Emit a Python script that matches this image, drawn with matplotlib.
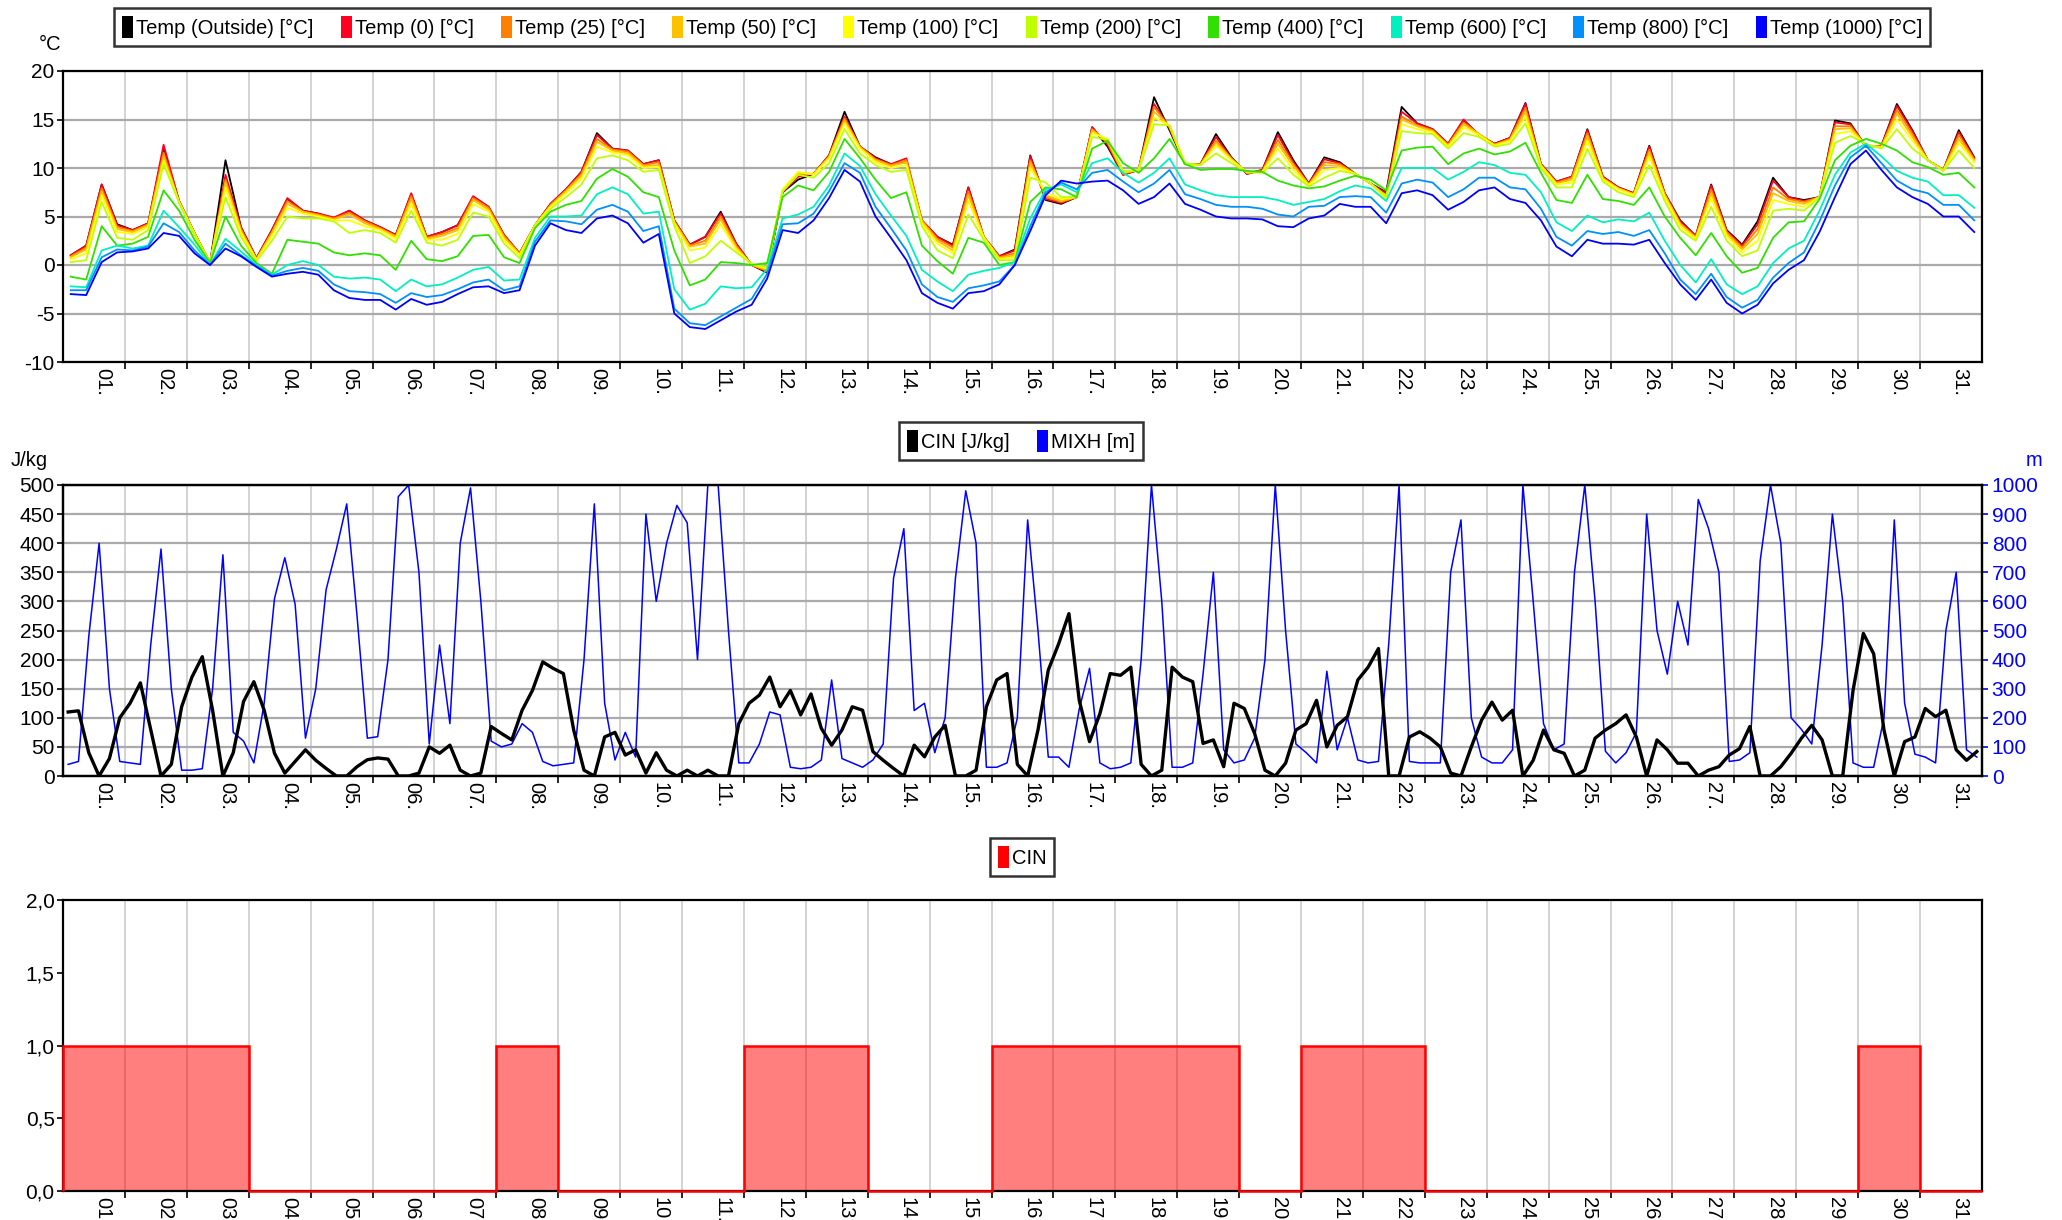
import numpy as np
import matplotlib
matplotlib.use('Agg')
import matplotlib.pyplot as plt
from matplotlib import font_manager
from matplotlib.patches import Patch

names = {f.name for f in font_manager.fontManager.ttflist}
FONT = 'Liberation Sans Narrow' if 'Liberation Sans Narrow' in names else 'Liberation Sans'
plt.rcParams['font.family'] = [FONT, 'DejaVu Sans']

# x axis: days of the month
day_labels = [f'{d:02d}.' for d in range(1, 32)]

# temperatures, 4 readings per day (03, 09, 15, 21 h)
temp_outside = [
    1.0, 2.0, 8.3, 4.2, 3.6, 4.3, 12.0, 6.6, 3.3, 0.2, 10.8, 3.9, 0.7, 3.6, 6.8, 5.6,
    5.3, 4.8, 5.6, 4.6, 3.9, 3.1, 7.3, 2.9, 3.4, 4.1, 7.0, 6.0, 3.1, 1.2, 4.1, 6.3,
    7.8, 9.6, 13.6, 12.0, 11.8, 10.4, 10.8, 4.6, 2.1, 2.9, 5.5, 2.2, 0.0, -0.8, 7.5, 8.8,
    9.4, 11.3, 15.8, 12.2, 11.1, 10.4, 10.6, 4.6, 2.9, 2.1, 8.0, 2.9, 0.9, 1.6, 11.3, 6.7,
    6.3, 7.0, 14.2, 12.2, 9.3, 9.8, 17.3, 13.9, 10.4, 10.4, 13.5, 11.1, 9.4, 9.8, 13.7, 10.8,
    8.4, 11.1, 10.6, 9.4, 8.4, 7.5, 16.3, 14.6, 14.0, 12.5, 14.9, 13.4, 12.5, 13.1, 16.7, 10.4,
    8.6, 9.1, 14.0, 9.1, 8.0, 7.4, 12.3, 7.4, 4.6, 3.0, 8.3, 3.6, 2.1, 4.5, 9.0, 7.0,
    6.7, 7.0, 14.9, 14.6, 12.2, 12.3, 16.6, 13.9, 10.8, 9.8, 13.9, 11.1]
temp_0 = [
    1.0, 2.0, 8.3, 4.1, 3.6, 4.3, 12.4, 6.6, 3.3, 0.2, 9.3, 3.9, 0.7, 3.6, 6.9, 5.6,
    5.3, 4.9, 5.6, 4.6, 3.9, 3.1, 7.4, 2.9, 3.4, 4.1, 7.1, 6.0, 3.1, 1.2, 4.1, 6.3,
    7.8, 9.6, 13.4, 12.0, 11.8, 10.4, 10.8, 4.6, 2.1, 2.9, 5.3, 2.2, 0.0, -0.7, 7.5, 9.1,
    9.4, 11.3, 15.3, 12.2, 11.0, 10.4, 11.0, 4.6, 2.9, 2.0, 8.0, 2.9, 0.9, 1.5, 11.2, 6.8,
    6.4, 7.0, 14.2, 12.4, 9.3, 9.8, 16.6, 14.1, 10.4, 10.4, 13.2, 11.0, 9.4, 9.8, 13.4, 10.6,
    8.4, 10.9, 10.5, 9.4, 8.4, 7.4, 15.8, 14.6, 14.0, 12.5, 15.0, 13.4, 12.5, 13.1, 16.6, 10.4,
    8.6, 9.1, 13.9, 9.1, 8.0, 7.4, 12.2, 7.4, 4.5, 3.0, 8.2, 3.5, 2.0, 4.2, 8.7, 7.0,
    6.6, 7.0, 14.7, 14.5, 12.2, 12.3, 16.4, 13.8, 10.8, 9.8, 13.7, 11.0]
temp_25 = [
    0.9, 1.8, 7.9, 3.9, 3.5, 4.2, 11.6, 6.5, 3.3, 0.2, 8.8, 3.7, 0.6, 3.4, 6.6, 5.5,
    5.2, 4.8, 5.4, 4.5, 3.8, 3.0, 7.1, 2.8, 3.2, 3.8, 6.9, 5.9, 3.0, 1.2, 4.1, 6.2,
    7.7, 9.4, 13.0, 11.9, 11.7, 10.3, 10.6, 4.5, 2.0, 2.5, 5.0, 2.0, 0.0, -0.6, 7.6, 9.3,
    9.4, 11.2, 15.1, 12.2, 10.9, 10.3, 10.8, 4.6, 2.7, 1.8, 7.6, 2.9, 0.8, 1.2, 10.8, 7.0,
    6.5, 7.0, 14.0, 12.6, 9.4, 9.8, 16.3, 14.2, 10.4, 10.4, 12.8, 11.0, 9.5, 9.7, 12.9, 10.4,
    8.3, 10.6, 10.4, 9.4, 8.4, 7.1, 15.3, 14.4, 13.9, 12.4, 14.7, 13.5, 12.4, 13.0, 16.2, 10.3,
    8.5, 9.0, 13.6, 9.0, 7.9, 7.3, 11.9, 7.3, 4.3, 2.9, 7.8, 3.4, 1.8, 3.7, 8.0, 6.8,
    6.5, 7.0, 14.3, 14.3, 12.3, 12.2, 16.0, 13.5, 10.8, 9.8, 13.4, 10.9]
temp_50 = [
    0.8, 1.6, 7.6, 3.7, 3.4, 4.1, 11.2, 6.5, 3.3, 0.2, 8.5, 3.5, 0.6, 3.3, 6.3, 5.5,
    5.1, 4.7, 5.2, 4.3, 3.7, 2.9, 6.8, 2.7, 3.0, 3.6, 6.7, 5.7, 2.8, 1.1, 4.1, 6.1,
    7.6, 9.2, 12.7, 11.8, 11.5, 10.2, 10.3, 4.4, 1.9, 2.2, 4.7, 1.8, 0.0, -0.5, 7.7, 9.5,
    9.4, 11.1, 14.9, 12.1, 10.8, 10.2, 10.6, 4.5, 2.5, 1.5, 7.2, 2.9, 0.7, 1.0, 10.5, 7.2,
    6.6, 7.0, 13.9, 12.8, 9.5, 9.8, 15.8, 14.3, 10.4, 10.3, 12.6, 10.9, 9.5, 9.6, 12.5, 10.2,
    8.3, 10.3, 10.2, 9.4, 8.4, 6.9, 15.0, 14.3, 13.8, 12.3, 14.5, 13.5, 12.4, 12.9, 15.8, 10.3,
    8.4, 8.8, 13.3, 8.9, 7.9, 7.3, 11.6, 7.2, 4.2, 2.8, 7.4, 3.2, 1.6, 3.2, 7.4, 6.6,
    6.3, 7.0, 14.0, 14.1, 12.3, 12.2, 15.6, 13.2, 10.8, 9.8, 13.0, 10.8]
temp_100 = [
    0.6, 1.2, 7.2, 3.4, 3.2, 3.9, 10.8, 6.5, 3.2, 0.2, 8.0, 3.3, 0.5, 3.0, 5.9, 5.3,
    5.0, 4.6, 4.6, 4.0, 3.6, 2.7, 6.3, 2.6, 2.6, 3.2, 6.3, 5.5, 2.6, 1.0, 4.1, 6.0,
    7.4, 8.9, 12.2, 11.6, 11.3, 10.0, 10.1, 4.3, 1.5, 1.8, 4.2, 1.6, 0.1, -0.4, 7.8, 9.6,
    9.3, 11.0, 14.6, 12.0, 10.6, 10.0, 10.3, 4.3, 2.2, 1.2, 6.6, 2.8, 0.6, 0.8, 10.0, 7.5,
    6.8, 7.0, 13.6, 13.0, 9.6, 9.8, 15.2, 14.4, 10.4, 10.3, 12.3, 10.8, 9.6, 9.6, 12.0, 9.8,
    8.2, 9.8, 10.0, 9.4, 8.4, 6.8, 14.5, 14.0, 13.7, 12.2, 14.2, 13.4, 12.3, 12.8, 15.3, 10.2,
    8.3, 8.5, 12.8, 8.8, 7.8, 7.2, 11.2, 7.0, 4.0, 2.7, 6.9, 3.0, 1.3, 2.5, 6.7, 6.3,
    6.0, 7.0, 13.5, 13.8, 12.4, 12.1, 15.0, 12.8, 10.8, 9.7, 12.6, 10.6]
temp_200 = [
    0.3, 0.5, 6.5, 2.8, 2.6, 3.6, 10.4, 6.4, 3.1, 0.2, 7.0, 2.9, 0.4, 2.5, 5.0, 4.8,
    4.8, 4.5, 3.3, 3.6, 3.3, 2.3, 5.6, 2.3, 2.0, 2.6, 5.4, 5.0, 2.2, 0.7, 4.0, 5.8,
    7.0, 8.3, 11.0, 11.3, 10.8, 9.6, 9.8, 4.0, 0.2, 0.9, 2.5, 1.3, 0.1, -0.2, 7.6, 9.3,
    9.0, 10.5, 14.0, 11.5, 10.3, 9.6, 9.8, 4.0, 1.5, 0.7, 5.2, 2.6, 0.5, 0.5, 9.0, 8.5,
    7.0, 7.0, 13.2, 12.9, 9.7, 9.7, 14.5, 14.4, 10.5, 10.3, 11.5, 10.5, 9.6, 9.5, 11.0, 9.3,
    8.1, 9.0, 9.7, 9.4, 8.4, 7.1, 13.8, 13.6, 13.5, 12.0, 13.6, 13.2, 12.2, 12.5, 14.6, 10.0,
    8.0, 8.0, 12.0, 8.6, 7.5, 7.0, 10.3, 6.6, 3.6, 2.5, 6.0, 2.5, 0.9, 1.5, 5.6, 5.8,
    5.6, 7.0, 12.6, 13.3, 12.5, 12.0, 14.0, 12.0, 10.8, 9.7, 11.8, 10.0]
temp_400 = [
    -1.2, -1.5, 4.0, 2.0, 2.2, 2.9, 7.7, 5.6, 2.6, 0.2, 5.0, 2.0, 0.2, -0.9, 2.6, 2.4,
    2.2, 1.3, 1.0, 1.2, 1.0, -0.5, 2.5, 0.6, 0.4, 0.9, 3.0, 3.1, 0.8, 0.2, 3.8, 5.5,
    6.2, 6.6, 8.9, 9.9, 9.1, 7.5, 7.0, 1.5, -2.1, -1.5, 0.3, 0.2, 0.0, 0.2, 7.0, 8.2,
    7.7, 9.6, 13.0, 11.0, 8.8, 6.9, 7.5, 2.0, 0.4, -0.9, 2.8, 2.3, 0.0, 0.3, 6.5, 8.0,
    7.8, 7.0, 12.0, 12.8, 10.5, 9.5, 11.0, 13.0, 10.4, 9.8, 9.9, 9.9, 9.7, 9.6, 8.7, 8.2,
    7.9, 8.1, 8.7, 9.2, 8.8, 7.7, 11.8, 12.1, 12.2, 10.4, 11.5, 12.0, 11.4, 11.7, 12.6, 9.5,
    6.7, 6.4, 9.3, 6.8, 6.6, 6.2, 8.0, 5.0, 2.8, 1.0, 3.3, 0.9, -0.8, -0.3, 2.8, 4.4,
    4.5, 6.8, 10.8, 12.3, 13.0, 12.5, 11.8, 10.6, 10.1, 9.3, 9.5, 8.0]
temp_600 = [
    -2.2, -2.3, 1.5, 2.0, 1.7, 2.0, 5.6, 3.9, 2.1, 0.0, 2.7, 1.4, 0.0, -1.0, 0.0, 0.4,
    0.0, -1.2, -1.4, -1.3, -1.5, -2.7, -1.5, -2.2, -2.0, -1.3, -0.5, -0.2, -1.6, -1.5, 2.8, 5.0,
    5.0, 5.1, 7.3, 8.0, 7.3, 5.3, 5.5, -2.5, -4.6, -4.0, -2.2, -2.4, -2.3, -0.4, 4.8, 5.2,
    6.0, 8.2, 11.5, 10.2, 7.3, 5.1, 3.0, -0.5, -1.7, -2.7, -1.0, -0.6, -0.3, 0.3, 4.8, 7.8,
    8.3, 7.5, 10.5, 11.0, 9.5, 8.5, 9.5, 11.0, 8.3, 7.7, 7.2, 7.0, 7.0, 7.0, 6.7, 6.2,
    6.5, 6.8, 7.6, 8.2, 7.9, 6.6, 10.0, 10.0, 10.0, 8.8, 9.6, 10.6, 10.3, 9.5, 9.3, 7.5,
    4.4, 3.5, 5.1, 4.4, 4.7, 4.5, 5.4, 2.5, 0.0, -1.8, 0.6, -2.0, -3.0, -2.2, 0.2, 1.7,
    2.5, 5.6, 9.3, 11.6, 12.5, 11.2, 9.7, 9.0, 8.6, 7.2, 7.2, 5.9]
temp_800 = [
    -2.6, -2.6, 0.8, 1.6, 1.5, 1.9, 4.3, 3.4, 1.5, 0.0, 2.2, 1.0, -0.1, -1.1, -0.6, -0.3,
    -0.6, -2.0, -2.7, -2.8, -3.0, -3.9, -2.9, -3.3, -3.1, -2.5, -1.8, -1.5, -2.6, -2.2, 2.4, 4.6,
    4.5, 4.2, 5.7, 6.2, 5.5, 3.5, 4.0, -4.5, -6.0, -6.2, -5.3, -4.4, -3.5, -0.9, 4.2, 4.3,
    5.3, 7.6, 10.5, 9.5, 6.0, 3.8, 1.5, -2.0, -3.3, -3.8, -2.4, -2.1, -1.7, 0.0, 4.0, 7.5,
    8.5, 7.8, 9.5, 9.8, 8.6, 7.5, 8.4, 9.8, 7.3, 6.8, 6.2, 6.0, 6.0, 5.8, 5.2, 5.0,
    6.0, 6.1, 7.0, 7.1, 7.0, 5.4, 8.4, 8.8, 8.5, 7.0, 7.8, 9.0, 9.0, 8.0, 7.8, 5.8,
    2.9, 2.0, 3.5, 3.2, 3.4, 3.0, 3.6, 1.2, -1.5, -3.0, -0.9, -3.3, -4.4, -3.6, -1.3, 0.2,
    1.3, 4.5, 8.2, 11.1, 12.3, 10.5, 8.7, 7.8, 7.4, 6.2, 6.2, 4.6]
temp_1000 = [
    -3.0, -3.1, 0.3, 1.3, 1.4, 1.7, 3.3, 3.0, 1.2, 0.0, 1.7, 0.9, -0.2, -1.2, -0.9, -0.7,
    -1.0, -2.6, -3.4, -3.6, -3.6, -4.6, -3.5, -4.1, -3.8, -3.0, -2.3, -2.2, -2.9, -2.6, 2.0, 4.3,
    3.6, 3.3, 4.8, 5.1, 4.3, 2.3, 3.2, -5.0, -6.4, -6.6, -5.7, -4.8, -4.1, -1.4, 3.6, 3.3,
    4.6, 6.9, 9.8, 8.6, 5.0, 2.8, 0.5, -2.9, -3.9, -4.5, -2.9, -2.7, -2.0, 0.0, 3.5, 7.2,
    8.7, 8.4, 8.6, 8.7, 7.7, 6.3, 7.0, 8.4, 6.3, 5.7, 5.0, 4.8, 4.8, 4.7, 4.0, 3.9,
    4.8, 5.1, 6.3, 6.0, 6.0, 4.3, 7.4, 7.7, 7.2, 5.7, 6.5, 7.7, 8.0, 6.8, 6.4, 4.6,
    1.9, 0.9, 2.6, 2.2, 2.2, 2.1, 2.6, 0.2, -2.0, -3.6, -1.5, -3.9, -5.0, -4.1, -1.9, -0.5,
    0.5, 3.4, 7.0, 10.4, 11.8, 9.8, 8.0, 7.0, 6.3, 5.0, 5.0, 3.4]

temp_labels = ['Temp (Outside) [°C]', 'Temp (0) [°C]', 'Temp (25) [°C]', 'Temp (50) [°C]',
               'Temp (100) [°C]', 'Temp (200) [°C]', 'Temp (400) [°C]', 'Temp (600) [°C]',
               'Temp (800) [°C]', 'Temp (1000) [°C]']
temp_colors = ['#000000', '#FF0020', '#FF8000', '#FFC000', '#FFFF00',
               '#C0FF00', '#30E000', '#00F0C0', '#0090FF', '#0000FF']
temp_series = [temp_outside, temp_0, temp_25, temp_50, temp_100,
               temp_200, temp_400, temp_600, temp_800, temp_1000]

# CIN [J/kg] and MIXH [m], 6 readings per day (02, 06, 10, 14, 18, 22 h)
cin = [
    110, 112, 40, 0, 30, 100, 125, 160, 80, 0, 20, 119, 170, 205, 113, 0, 40, 128,
    162, 113, 39, 5, 25, 45, 27, 13, 0, 0, 16, 28, 31, 29, 0, 0, 5, 50,
    39, 53, 10, 0, 5, 85, 73, 62, 113, 147, 196, 185, 176, 79, 10, 0, 67, 75,
    36, 45, 5, 40, 10, 0, 10, 0, 10, 0, 0, 90, 125, 139, 170, 119, 147, 105,
    141, 82, 53, 79, 119, 113, 42, 27, 13, 0, 53, 33, 67, 87, 0, 0, 10, 119,
    165, 176, 20, 0, 79, 182, 227, 279, 130, 59, 107, 176, 173, 187, 20, 0, 10, 187,
    170, 162, 56, 62, 16, 125, 116, 73, 10, 0, 22, 79, 90, 130, 50, 87, 102, 165,
    187, 219, 0, 0, 67, 76, 65, 50, 5, 0, 50, 96, 127, 96, 113, 0, 27, 79,
    45, 39, 0, 10, 65, 79, 90, 105, 67, 0, 62, 45, 22, 22, 0, 10, 16, 36,
    47, 85, 0, 0, 16, 39, 65, 87, 62, 0, 0, 147, 245, 210, 79, 0, 59, 67,
    116, 102, 113, 45, 27, 42]
mixh = [
    40, 50, 480, 800, 300, 50, 45, 40, 450, 780, 300, 20, 20, 25, 300, 760, 150, 120,
    45, 250, 610, 750, 590, 130, 300, 640, 780, 935, 550, 130, 135, 400, 960, 1000, 700, 110,
    450, 180, 800, 990, 600, 120, 100, 110, 180, 150, 50, 35, 40, 45, 400, 935, 250, 55,
    150, 65, 900, 600, 800, 930, 870, 400, 1000, 1000, 500, 45, 45, 110, 220, 210, 30, 25,
    30, 55, 330, 60, 45, 30, 55, 110, 680, 850, 225, 250, 80, 200, 680, 980, 800, 30,
    30, 45, 200, 880, 500, 65, 65, 30, 230, 370, 45, 25, 30, 45, 400, 1000, 600, 30,
    30, 45, 350, 700, 90, 45, 55, 130, 400, 1000, 500, 110, 80, 45, 360, 90, 200, 55,
    45, 50, 455, 1000, 50, 45, 45, 45, 700, 880, 200, 65, 45, 45, 90, 1000, 600, 180,
    90, 110, 700, 1000, 600, 85, 45, 80, 150, 900, 500, 350, 600, 450, 950, 850, 700, 50,
    55, 80, 740, 1000, 800, 200, 160, 110, 450, 900, 600, 45, 30, 30, 200, 880, 250, 75,
    65, 45, 500, 700, 90, 65]

# daily CIN flag
cin_flag = [1, 1, 1, 0, 0, 0, 0, 1, 0, 0, 0, 1, 1, 0, 0, 1,
            1, 1, 1, 0, 1, 1, 0, 0, 0, 0, 0, 0, 0, 1, 0]

t_temp = (np.arange(31)[:, None] + np.array([3, 9, 15, 21]) / 24).ravel()
t_mid = (np.arange(31)[:, None] + np.array([2, 6, 10, 14, 18, 22]) / 24).ravel()
edges = np.arange(32)

W, H = 2062, 1220
fig = plt.figure(figsize=(W / 100, H / 100), dpi=100)
L, AW = 63 / W, (1982 - 63) / W
FS = 15  # tick label size
LFS = 14.5  # legend text size


def style_x(ax):
    ax.set_xlim(0, 31)
    ax.set_xticks(np.arange(1, 31))
    ax.set_xticklabels([])
    ax.set_xticks(np.arange(31) + 0.64, minor=True)
    ax.set_xticklabels(day_labels, minor=True, rotation=270, fontsize=14.5)
    ax.tick_params(axis='x', which='major', direction='out', length=5, width=1.2)
    ax.tick_params(axis='x', which='minor', length=0, pad=4)
    ax.tick_params(axis='y', direction='out', length=4, width=1.2, labelsize=FS, pad=2)
    for s in ax.spines.values():
        s.set_linewidth(1.6)


def box_legend(handles, labels, cx, cy, ncol=1):
    leg = fig.legend(handles, labels, loc='center', bbox_to_anchor=(cx / W, 1 - cy / H),
                     ncol=ncol, fancybox=False, edgecolor='black', fontsize=LFS,
                     handlelength=0.55, handleheight=1.25, handletextpad=0.15,
                     columnspacing=1.35, borderpad=0.4, borderaxespad=0)
    leg.get_frame().set_linewidth(1.8)
    return leg


hgrid = dict(color='#AAAAAA', linewidth=1.6)
vgrid = dict(color='#CCCCCC', linewidth=1.2)

# --- top panel
ax1 = fig.add_axes([L, 1 - 362 / H, AW, 291 / H])
for vals, col in zip(temp_series, temp_colors):
    ax1.plot(t_temp, vals, color=col, lw=1.3)
ax1.set_ylim(-10, 20)
ax1.set_yticks(np.arange(-10, 21, 5))
ax1.set_yticklabels([str(v) for v in range(-10, 21, 5)])
style_x(ax1)
ax1.grid(True, axis='y', **hgrid)
ax1.grid(True, axis='x', which='major', **vgrid)
ax1.set_axisbelow(True)

box_legend([Patch(facecolor=c, edgecolor='none') for c in temp_colors], temp_labels,
           1022, 27, ncol=10)
fig.text(50 / W, 1 - 45 / H, '°C', ha='center', va='center', fontsize=LFS)

# --- middle panel
ax2 = fig.add_axes([L, 1 - 776 / H, AW, 291 / H])
ax2r = ax2.twinx()
ax2.set_zorder(2)
ax2r.set_zorder(1)
ax2.patch.set_visible(False)
ax2r.patch.set_visible(True)
ax2r.patch.set_facecolor('white')
ax2.plot(t_mid, cin, color='black', lw=2.4)
ax2r.plot(t_mid, mixh, color='#0000FF', lw=1.1)
ax2.set_ylim(0, 500)
ax2.set_yticks(np.arange(0, 501, 50))
ax2r.set_ylim(0, 1000)
ax2r.set_yticks(np.arange(0, 1001, 100))
style_x(ax2)
ax2r.xaxis.set_visible(True)
ax2r.tick_params(axis='x', which='both', bottom=False, top=False,
                 labelbottom=False, labeltop=False)
ax2r.tick_params(axis='y', direction='out', length=4, width=1.2, labelsize=FS,
                 pad=3, colors='#0000FF')
ax2r.grid(True, axis='y', **hgrid)
ax2r.grid(True, axis='x', which='major', **vgrid)
for s in ax2r.spines.values():
    s.set_linewidth(1.6)

box_legend([Patch(facecolor='black', edgecolor='none'), Patch(facecolor='#0000FF', edgecolor='none')],
           ['CIN [J/kg]', 'MIXH [m]'], 1021, 441, ncol=2)
fig.text(29 / W, 1 - 460 / H, 'J/kg', ha='center', va='center', fontsize=LFS)
fig.text(2034 / W, 1 - 460 / H, 'm', ha='center', va='center', fontsize=LFS, color='#0000FF')

# --- bottom panel
ax3 = fig.add_axes([L, 1 - 1191 / H, AW, 291 / H])
ax3.stairs(cin_flag, edges, fill=True, color='#FF0000', alpha=0.5, lw=0)
ax3.stairs(cin_flag, edges, color='#FF0000', lw=1.8, zorder=5, clip_on=False)
ax3.set_ylim(0, 2)
ax3.set_yticks([0, 0.5, 1.0, 1.5, 2.0])
ax3.set_yticklabels(['0,0', '0,5', '1,0', '1,5', '2,0'])
style_x(ax3)
ax3.grid(True, axis='x', which='major', **vgrid)
ax3.set_axisbelow(True)

box_legend([Patch(facecolor='#FF0000', edgecolor='none')], ['CIN'], 1022, 857)

fig.savefig('out.png', dpi=100)
